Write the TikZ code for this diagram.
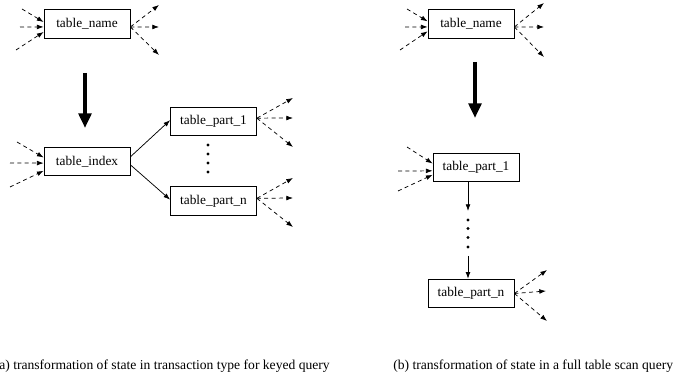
\documentclass[tikz,border=0pt]{standalone}
\usepackage{fontspec}
\setmainfont{Liberation Serif}
\usetikzlibrary{arrows.meta,calc}
\begin{document}
\begin{tikzpicture}[x=0.75pt,y=-0.75pt,
  tbox/.style={draw,line width=0.6pt,minimum width=64.5pt,minimum height=21.5pt,inner sep=0pt,font=\fontsize{10}{12}\selectfont},
  darr/.style={dashed,dash pattern=on 3pt off 2.5pt,line width=0.55pt,-{Latex[length=5pt,width=3.6pt]}},
  sarr/.style={line width=0.55pt,-{Latex[length=5pt,width=3.6pt]}},
  bigarr/.style={line width=3pt,-{Triangle[length=11pt,width=9.5pt]}},
  dotc/.style={circle,fill,inner sep=0pt,minimum size=2.5pt},
  captext/.style={font=\fontsize{10.2}{12}\selectfont,inner sep=0pt}]
\useasboundingbox (0,0) rectangle (677,384);

% ---------- left panel ----------
\node[tbox] (tnA) at (87,24) {table\_name};
\node[tbox] (tiA) at (87,161.5) {table\_index};
\node[tbox] (p1A) at (213.5,121.5) {table\_part\_1};
\node[tbox] (pnA) at (213.5,201) {table\_part\_n};

% incoming to table_name
\coordinate (a1) at (22,9);
\coordinate (a2) at (20,27);
\coordinate (a3) at (16,50);
\draw[darr] (a1) -- ([yshift=1.5pt]tnA.west);
\draw[darr] (a2) -- ([yshift=-2.2pt]tnA.west);
\draw[darr] (a3) -- ([yshift=-6pt]tnA.west);
% outgoing from table_name
\coordinate (b1) at (159,5);
\coordinate (b2) at (159,27);
\coordinate (b3) at (159,55);
\draw[darr] ([yshift=-2.2pt]tnA.east) -- (b1);
\draw[darr] ([yshift=-2.2pt]tnA.east) -- (b2);
\draw[darr] ([yshift=-2.2pt]tnA.east) -- (b3);

% big arrow
\coordinate (bigA) at (85,73);
\coordinate (bigAend) at (85,128);
\draw[bigarr] (bigA) -- (bigAend);

% incoming to table_index
\coordinate (c1) at (17,142);
\coordinate (c2) at (10,163);
\coordinate (c3) at (10,187);
\draw[darr] (c1) -- ([yshift=3pt]tiA.west);
\draw[darr] (c2) -- ([yshift=-1.2pt]tiA.west);
\draw[darr] (c3) -- ([yshift=-7pt]tiA.west);

% table_index -> parts
\draw[sarr] ([yshift=3.5pt]tiA.east) -- ([yshift=1pt]p1A.west);
\draw[sarr] ([yshift=-2.5pt]tiA.east) -- ([yshift=1pt]pnA.west);

% dots
\node[dotc] (dA1) at (208,145) {};
\node[dotc] (dA2) at (208,154) {};
\node[dotc] (dA3) at (208,163) {};
\node[dotc] (dA4) at (208,172) {};

% outgoing from table_part_1
\coordinate (e1) at (293,98);
\coordinate (e2) at (293,118);
\coordinate (e3) at (293,147);
\draw[darr] ([yshift=2.5pt]p1A.east) -- (e1);
\draw[darr] ([yshift=2.5pt]p1A.east) -- (e2);
\draw[darr] ([yshift=2.5pt]p1A.east) -- (e3);

% outgoing from table_part_n
\coordinate (f1) at (293,178);
\coordinate (f2) at (293,198);
\coordinate (f3) at (293,227);
\draw[darr] ([yshift=2pt]pnA.east) -- (f1);
\draw[darr] ([yshift=2pt]pnA.east) -- (f2);
\draw[darr] ([yshift=2pt]pnA.east) -- (f3);

% ---------- right panel ----------
\node[tbox] (tnB) at (471,24) {table\_name};
\node[tbox] (p1B) at (476,167.5) {table\_part\_1};
\node[tbox] (pnB) at (471,293.5) {table\_part\_n};

% incoming to table_name
\coordinate (g1) at (407,9);
\coordinate (g2) at (405,27);
\coordinate (g3) at (400,50);
\draw[darr] (g1) -- ([yshift=2pt]tnB.west);
\draw[darr] (g2) -- ([yshift=-2.2pt]tnB.west);
\draw[darr] (g3) -- ([yshift=-5.5pt]tnB.west);
% outgoing
\coordinate (h1) at (544,3);
\coordinate (h2) at (544,27);
\coordinate (h3) at (544,57);
\draw[darr] ([yshift=-2.2pt]tnB.east) -- (h1);
\draw[darr] ([yshift=-2.2pt]tnB.east) -- (h2);
\draw[darr] ([yshift=-2.2pt]tnB.east) -- (h3);

% big arrow
\coordinate (bigB) at (475,62);
\coordinate (bigBend) at (475,118);
\draw[bigarr] (bigB) -- (bigBend);

% incoming to table_part_1
\coordinate (k1) at (407,147);
\coordinate (k2) at (398,171);
\coordinate (k3) at (398,191);
\draw[darr] (k1) -- ([yshift=3pt]p1B.west);
\draw[darr] (k2) -- ([yshift=-2.5pt]p1B.west);
\draw[darr] (k3) -- ([yshift=-5.5pt]p1B.west);

% vertical chain
\node[dotc] (dB1) at (468,220) {};
\node[dotc] (dB2) at (468,228.5) {};
\node[dotc] (dB3) at (468,237.5) {};
\node[dotc] (dB4) at (468,247) {};
\coordinate (vtop) at (468,211);
\coordinate (vbot) at (468,256);
\draw[sarr] (p1B.south -| vtop) -- (vtop);
\draw[sarr] (vbot) -- (pnB.north -| vbot);

% outgoing from table_part_n
\coordinate (m1) at (547,270);
\coordinate (m2) at (546,291);
\coordinate (m3) at (547,321);
\draw[darr] (pnB.east) -- (m1);
\draw[darr] (pnB.east) -- (m2);
\draw[darr] (pnB.east) -- (m3);

% ---------- captions ----------
\node[captext,anchor=base east] (capA) at (330,369) {(a) transformation of state in transaction type for keyed query};
\node[captext,anchor=base west] (capB) at (393,369) {(b) transformation of state in a full table scan query};
\end{tikzpicture}
\end{document}
